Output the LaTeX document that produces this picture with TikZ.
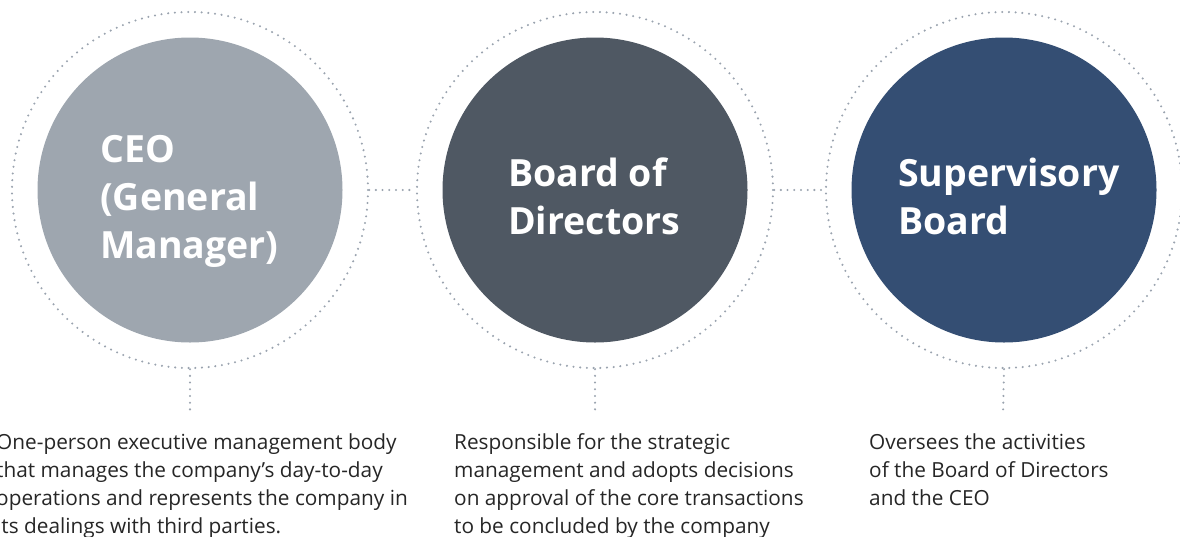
\documentclass[tikz,border=0pt]{standalone}
\usepackage{fontspec}
\setmainfont{Open Sans}
\definecolor{ceocol}{HTML}{9EA6AF}
\definecolor{bodcol}{HTML}{4F5863}
\definecolor{supcol}{HTML}{344E73}
\definecolor{dotcol}{HTML}{9AA3AF}
\definecolor{textcol}{HTML}{262626}
\begin{document}
\begin{tikzpicture}[x=1pt,y=-1pt,
  disc/.style={circle, minimum size=305pt, inner sep=0pt, draw=none},
  ring/.style={circle, minimum size=356pt, inner sep=0pt, draw=dotcol, line width=2.3pt, dash pattern=on 0pt off 6.7pt, line cap=round},
  link/.style={draw=dotcol, line width=2.3pt, dash pattern=on 0pt off 6.7pt, line cap=round},
  title/.style={text=white, font=\bfseries\fontsize{37.5}{48}\selectfont, align=left, anchor=west, inner sep=0pt},
  desc/.style={text=textcol, font=\fontsize{20.8}{28}\selectfont, align=left, anchor=north west, inner sep=0pt}]
\useasboundingbox (0,0) rectangle (1180,536);
% rings
\node[ring] (r1) at (190,190) {};
\node[ring] (r2) at (595,190) {};
\node[ring] (r3) at (1004,190) {};
% discs
\node[disc, fill=ceocol] (c1) at (190,190) {};
\node[disc, fill=bodcol] (c2) at (595,190) {};
\node[disc, fill=supcol] (c3) at (1004,190) {};
% titles
\node[title] (t1) at (100,201) {CEO\\(General\\Manager)};
\node[title] (t2) at (508,196) {Board of\\Directors};
\node[title] (t3) at (898,196) {Supervisory\\Board};
% connectors
\draw[link] (r1.east) -- (r2.west);
\draw[link] (r2.east) -- (r3.west);
\coordinate (e1) at (190,415);
\coordinate (e2) at (595,415);
\coordinate (e3) at (1003,415);
\draw[link] (r1.south) -- (e1);
\draw[link] (r2.south) -- (e2);
\draw[link] (r3.south) -- (e3);
% descriptions
\node[desc] (d1) at (-4,433) {One-person executive management body\\that manages the company’s day-to-day\\operations and represents the company in\\its dealings with third parties.};
\node[desc] (d2) at (454,433) {Responsible for the strategic\\management and adopts decisions\\on approval of the core transactions\\to be concluded by the company};
\node[desc] (d3) at (869,433) {Oversees the activities\\of the Board of Directors\\and the CEO};
\end{tikzpicture}
\end{document}
